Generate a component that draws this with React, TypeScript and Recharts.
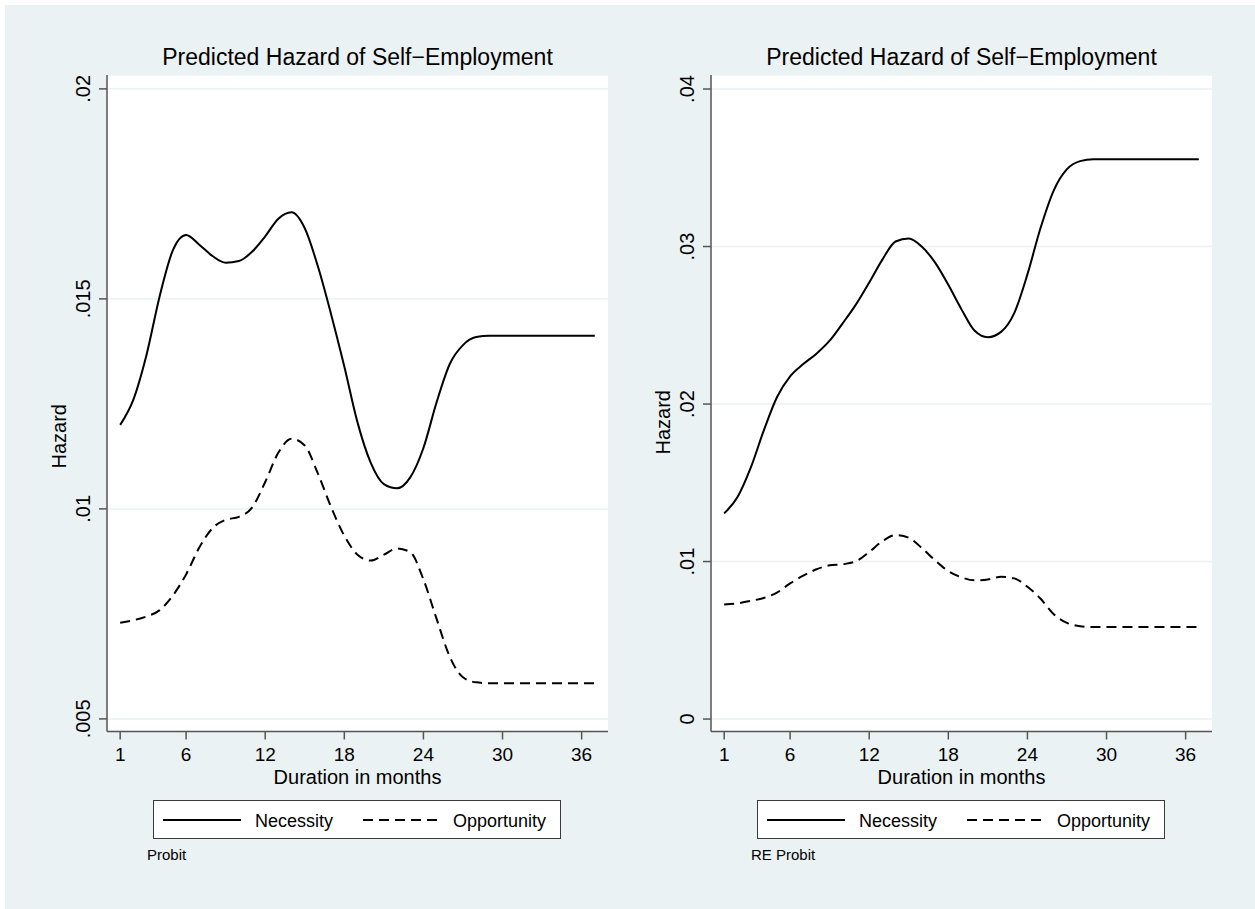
import React from "react";
import {
  LineChart,
  Line,
  XAxis,
  YAxis,
  CartesianGrid,
  Legend,
} from "recharts";

const FONT = '"Liberation Sans", Arial, Helvetica, sans-serif';
const BG = "#eaf2f3";

const months = [
  1, 2, 3, 4, 5, 6, 7, 8, 9, 10, 11, 12, 13, 14, 15, 16, 17, 18, 19, 20, 21,
  22, 23, 24, 25, 26, 27, 28, 29, 30, 31, 32, 33, 34, 35, 36, 37,
];
const monthTicks = [1, 6, 12, 18, 24, 30, 36];

// Probit panel
const probitNecessity = [
  0.012, 0.0126, 0.01367, 0.01507, 0.01616, 0.01652, 0.01629, 0.01602,
  0.01586, 0.0159, 0.01612, 0.01649, 0.01691, 0.01706, 0.01668, 0.01577,
  0.01463, 0.01339, 0.01206, 0.0111, 0.01059, 0.01049, 0.01075, 0.01145,
  0.01254, 0.01345, 0.0139, 0.01409, 0.01412, 0.01412, 0.01412, 0.01412,
  0.01412, 0.01412, 0.01412, 0.01412, 0.01412,
];
const probitOpportunity = [
  0.00729, 0.00735, 0.00744, 0.00759, 0.00794, 0.00844, 0.00908, 0.00954,
  0.00974, 0.00981, 0.01003, 0.01064, 0.01134, 0.01167, 0.01151, 0.01084,
  0.01004, 0.00936, 0.00891, 0.00877, 0.00891, 0.00906, 0.00897, 0.00832,
  0.00738, 0.00648, 0.00599, 0.00587, 0.00585, 0.00585, 0.00585, 0.00585,
  0.00585, 0.00585, 0.00585, 0.00585, 0.00585,
];
const probitTicks = [0.005, 0.01, 0.015, 0.02];

// RE Probit panel
const reNecessity = [
  0.01306, 0.01408, 0.01593, 0.01831, 0.02043, 0.02176, 0.02254, 0.0232,
  0.02402, 0.02514, 0.02633, 0.02772, 0.02917, 0.03032, 0.03051, 0.02998,
  0.02898, 0.02757, 0.02601, 0.02465, 0.02424, 0.02458, 0.02577, 0.02823,
  0.03119, 0.03357, 0.03491, 0.03542, 0.03554, 0.03554, 0.03554, 0.03554,
  0.03554, 0.03554, 0.03554, 0.03554, 0.03554,
];
const reOpportunity = [
  0.00728, 0.00735, 0.0075, 0.00769, 0.00803, 0.00861, 0.0091, 0.00951,
  0.00976, 0.00983, 0.01002, 0.01061, 0.01129, 0.01168, 0.01151, 0.01085,
  0.01007, 0.00939, 0.009, 0.00881, 0.00886, 0.00903, 0.00893, 0.0084,
  0.00764, 0.00665, 0.00611, 0.00589, 0.00584, 0.00584, 0.00584, 0.00584,
  0.00584, 0.00584, 0.00584, 0.00584, 0.00584,
];
const reTicks = [0, 0.01, 0.02, 0.03, 0.04];

const fmt = (v: number) => String(v).replace(/^0\./, ".");

const RotatedTick = (props: any) => {
  const { x, y, payload } = props;
  return (
    <text
      x={0}
      y={0}
      transform={`translate(${x},${y}) rotate(-90)`}
      textAnchor="middle"
      fontSize={20}
      fontFamily={FONT}
      fill="#000"
    >
      {fmt(payload.value)}
    </text>
  );
};

const LegendBox = () => (
  <div
    style={{
      width: 408,
      height: 39,
      boxSizing: "border-box",
      border: "1.5px solid #3a3a3a",
      background: "#fff",
      position: "relative",
    }}
  >
    <svg width={408} height={39} style={{ position: "absolute", left: -1.5, top: -1.5 }}>
      <line x1={10} x2={88} y1={20} y2={20} stroke="#000" strokeWidth={2} />
      <line x1={210} x2={288} y1={20} y2={20} stroke="#000" strokeWidth={2} strokeDasharray="10 6" />
      <text x={102} y={26.5} fontSize={18} fontFamily={FONT}>Necessity</text>
      <text x={300} y={26.5} fontSize={18} fontFamily={FONT}>Opportunity</text>
    </svg>
  </div>
);

interface PanelProps {
  left: number;
  necessity: number[];
  opportunity: number[];
  ticks: number[];
  domain: [number, number];
  note: string;
  titleShift: number;
}

const Panel = ({ left, necessity, opportunity, ticks, domain, note, titleShift }: PanelProps) => {
  const data = months.map((m, i) => ({
    month: m,
    necessity: necessity[i],
    opportunity: opportunity[i],
  }));
  return (
    <div style={{ position: "absolute", left, top: 0, width: 630, height: 909 }}>
      <div
        style={{
          position: "absolute",
          left: 107,
          width: 501,
          top: 46,
          textAlign: "center",
          fontFamily: FONT,
          fontSize: 23,
          lineHeight: "23px",
          color: "#000",
        }}
      >
        Predicted Hazard of Self−Employment
      </div>
      <LineChart
        width={630}
        height={909}
        data={data}
        margin={{ top: 75, right: 22, bottom: 117.5, left: 47 }}
      >
        <CartesianGrid vertical={false} fill="#fff" stroke={BG} strokeWidth={1.5} />
        <XAxis
          dataKey="month"
          type="number"
          domain={[0, 38]}
          ticks={monthTicks}
          allowDataOverflow
          height={60}
          tickSize={8}
          tickMargin={8}
          axisLine={{ stroke: "#555", strokeWidth: 1.5 }}
          tickLine={{ stroke: "#555", strokeWidth: 1.5 }}
          tick={{ fill: "#000", fontSize: 19, fontFamily: FONT }}
          label={{
            content: (p: any) => (
              <text
                x={p.viewBox.x + p.viewBox.width / 2}
                y={p.viewBox.y + 52}
                textAnchor="middle"
                fontSize={20}
                fontFamily={FONT}
                fill="#000"
              >
                Duration in months
              </text>
            ),
          }}
        />
        <YAxis
          type="number"
          domain={domain}
          ticks={ticks}
          allowDataOverflow
          width={60}
          tickSize={8}
          tickMargin={9}
          axisLine={{ stroke: "#555", strokeWidth: 1.5 }}
          tickLine={{ stroke: "#555", strokeWidth: 1.5 }}
          tick={<RotatedTick />}
          label={{
            content: (p: any) => {
              const x = p.viewBox.x + p.viewBox.width - 41;
              const y = p.viewBox.y + p.viewBox.height / 2 + titleShift;
              return (
                <text
                  x={0}
                  y={0}
                  transform={`translate(${x},${y}) rotate(-90)`}
                  textAnchor="middle"
                  fontSize={20}
                  fontFamily={FONT}
                  fill="#000"
                >
                  Hazard
                </text>
              );
            },
          }}
        />
        <Legend
          layout="horizontal"
          verticalAlign="middle"
          align="center"
          content={() => <LegendBox />}
          wrapperStyle={{ left: 153, top: 800, width: 408, height: 39 }}
        />
        <Line
          type="monotone"
          dataKey="necessity"
          name="Necessity"
          stroke="#000"
          strokeWidth={2}
          dot={false}
          isAnimationActive={false}
        />
        <Line
          type="monotone"
          dataKey="opportunity"
          name="Opportunity"
          stroke="#000"
          strokeWidth={2}
          strokeDasharray="10 6"
          dot={false}
          isAnimationActive={false}
        />
      </LineChart>
      <div
        style={{
          position: "absolute",
          left: 147,
          top: 847,
          fontFamily: FONT,
          fontSize: 15,
          lineHeight: "16px",
          color: "#000",
        }}
      >
        {note}
      </div>
    </div>
  );
};

export default function App() {
  return (
    <div
      style={{
        position: "absolute",
        left: 0,
        top: 0,
        width: 1255,
        height: 909,
        background: "#fff",
        overflow: "hidden",
      }}
    >
      <div
        style={{
          position: "absolute",
          left: 5,
          top: 5,
          width: 1250,
          height: 904,
          background: BG,
        }}
      />
      <Panel
        left={0}
        necessity={probitNecessity}
        opportunity={probitOpportunity}
        ticks={probitTicks}
        domain={[0.0047, 0.02033]}
        note="Probit"
        titleShift={33}
      />
      <Panel
        left={604}
        necessity={reNecessity}
        opportunity={reOpportunity}
        ticks={reTicks}
        domain={[-0.00079, 0.04089]}
        note="RE Probit"
        titleShift={19}
      />
    </div>
  );
}
